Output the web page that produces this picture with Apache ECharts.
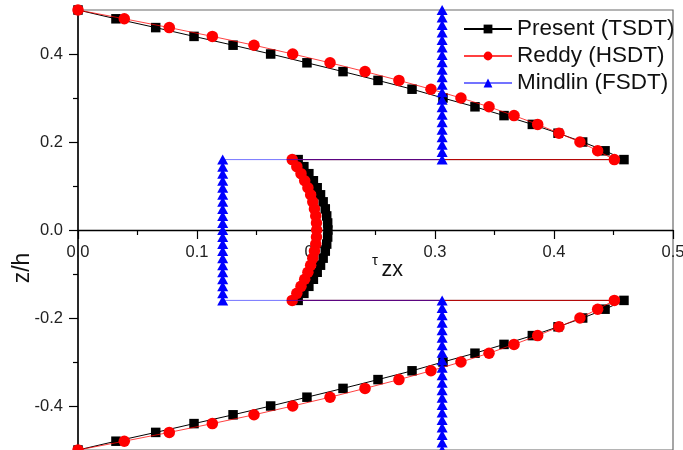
<!DOCTYPE html>
<html>
<head>
<meta charset="utf-8">
<script src="https://cdn.jsdelivr.net/npm/echarts@6/dist/echarts.min.js"></script>
<style>html,body{margin:0;padding:0;background:#fff}#c{width:683px;height:450px}</style>
</head>
<body>
<div id="c"></div>
<script>
// ---- data (z/h positions and shear stress tau_zx) ----
const layerTopZ = [0.5,0.48,0.46,0.44,0.42,0.4,0.38,0.36,0.34,0.32,0.3,0.28,0.26,0.24,0.22,0.2,0.18,0.16];
const coreZ = [0.16,0.144,0.128,0.112,0.096,0.08,0.064,0.048,0.032,0.016,0,-0.016,-0.032,-0.048,-0.064,-0.08,-0.096,-0.112,-0.128,-0.144,-0.16];
const layerBotZ = [-0.16,-0.18,-0.2,-0.22,-0.24,-0.26,-0.28,-0.3,-0.32,-0.34,-0.36,-0.38,-0.4,-0.42,-0.44,-0.46,-0.48,-0.5];

const presentTop = [0,0.0319,0.0653,0.0975,0.1303,0.1619,0.1924,0.2227,0.2521,0.2807,0.3067,0.3336,0.358,0.3818,0.4034,0.4241,0.4429,0.4588];
const presentCore = [0.185,0.1898,0.194,0.1978,0.201,0.2038,0.206,0.2078,0.209,0.2098,0.21,0.2098,0.209,0.2078,0.206,0.2038,0.201,0.1978,0.194,0.1898,0.185];
const presentBot = [0.4588,0.4429,0.4241,0.4034,0.3818,0.358,0.3336,0.3067,0.2807,0.2521,0.2227,0.1924,0.1619,0.1303,0.0975,0.0653,0.0319,0];

const reddyTop = [0,0.0389,0.0767,0.1129,0.1479,0.1804,0.2118,0.2412,0.2697,0.2966,0.3218,0.3454,0.3664,0.3863,0.4042,0.4218,0.4367,0.4507];
const reddyCore = [0.18,0.1839,0.1874,0.1905,0.1932,0.1955,0.1973,0.1987,0.1998,0.2004,0.2006,0.2004,0.1998,0.1987,0.1973,0.1955,0.1932,0.1905,0.1874,0.1839,0.18];
const reddyBot = [0.4507,0.4367,0.4218,0.4042,0.3863,0.3664,0.3454,0.3218,0.2966,0.2697,0.2412,0.2118,0.1804,0.1479,0.1129,0.0767,0.0389,0];

const mindlinTopZ = [0.5,0.483,0.466,0.449,0.432,0.415,0.398,0.381,0.364,0.347,0.33,0.313,0.296,0.279,0.262,0.245,0.228,0.211,0.194,0.177,0.16];
const mindlinBotZ = [-0.16,-0.177,-0.194,-0.211,-0.228,-0.245,-0.262,-0.279,-0.296,-0.313,-0.33,-0.347,-0.364,-0.381,-0.398,-0.415,-0.432,-0.449,-0.466,-0.483,-0.5];
const mindlinTop = [0.306,0.306,0.306,0.306,0.306,0.306,0.306,0.306,0.306,0.306,0.306,0.306,0.306,0.306,0.306,0.306,0.306,0.306,0.306,0.306,0.306];
const mindlinCore = [0.1216,0.1216,0.1216,0.1216,0.1216,0.1216,0.1216,0.1216,0.1216,0.1216,0.1216,0.1216,0.1216,0.1216,0.1216,0.1216,0.1216,0.1216,0.1216,0.1216,0.1216];
const mindlinBot = [0.306,0.306,0.306,0.306,0.306,0.306,0.306,0.306,0.306,0.306,0.306,0.306,0.306,0.306,0.306,0.306,0.306,0.306,0.306,0.306,0.306];

const seriesNames = ['Present (TSDT)','Reddy (HSDT)','Mindlin (FSDT)'];
const yMajorTicks = [-0.4,-0.2,0,0.2,0.4];
const yMinorTicks = [-0.3,-0.1,0.1,0.3];

function pairs(taus, zs){ return zs.map((z,i)=>[taus[i], z]); }
const presentData = [].concat(pairs(presentTop,layerTopZ), pairs(presentCore,coreZ), pairs(presentBot,layerBotZ));
const reddyData = [].concat(pairs(reddyTop,layerTopZ), pairs(reddyCore,coreZ), pairs(reddyBot,layerBotZ));
const mindlinData = [].concat(pairs(mindlinTop,mindlinTopZ), pairs(mindlinCore,coreZ), pairs(mindlinBot,mindlinBotZ));

const FONT = 'Liberation Sans, Arial, sans-serif';
const chart = echarts.init(document.getElementById('c'), null, {renderer:'canvas'});
chart.setOption({
  animation:false,
  backgroundColor:'#fff',
  grid:{left:78,right:10,top:10,bottom:0,show:true,borderColor:'#6a6a6a',borderWidth:1.2,containLabel:false,outerBoundsMode:'none'},
  legend:{
    data:seriesNames, orient:'vertical', left:463, top:17.5, itemWidth:48, itemHeight:11, itemGap:4, padding:0,
    textStyle:{fontFamily:FONT,fontSize:22.5,color:'#111',lineHeight:23}
  },
  xAxis:{
    type:'value', min:0, max:0.5, interval:0.1, position:'bottom', offset:-220,
    axisLine:{show:true,onZero:false,lineStyle:{color:'#000',width:1.3}},
    axisTick:{show:true,inside:false,length:9,lineStyle:{color:'#000',width:1.2}},
    minorTick:{show:true,splitNumber:2,length:5,lineStyle:{color:'#000',width:1.2}},
    axisLabel:{show:true,margin:14,fontFamily:FONT,fontSize:16.5,color:'#222',formatter:v=>v.toFixed(1),showMinLabel:true,showMaxLabel:true,hideOverlap:false},
    splitLine:{show:false}
  },
  yAxis:[{
    type:'value', min:-0.5, max:0.5, interval:0.1,
    axisLine:{show:true,onZero:false,lineStyle:{color:'#000',width:1.5}},
    axisTick:{show:true,inside:false,length:9,customValues:yMajorTicks,lineStyle:{color:'#000',width:1.2}},
    axisLabel:{margin:15,fontFamily:FONT,fontSize:16.5,color:'#222',customValues:yMajorTicks,formatter:v=>v.toFixed(1)},
    splitLine:{show:false}
  },{
    type:'value', min:-0.5, max:0.5, interval:0.1, position:'left', offset:0,
    axisLine:{show:false,onZero:false},
    axisTick:{show:true,inside:false,length:5,customValues:yMinorTicks,lineStyle:{color:'#000',width:1.2}},
    axisLabel:{show:false},
    splitLine:{show:false}
  }],
  graphic:[
    {type:'text', x:23, y:268, rotation:Math.PI/2, style:{text:'z/h', font:'23px '+FONT, fill:'#111', align:'center', verticalAlign:'middle'}},
    {type:'text', x:375, y:261, style:{text:'τ', font:'15px '+FONT, fill:'#111', align:'center', verticalAlign:'middle'}},
    {type:'text', x:381.5, y:270.5, style:{text:'zx', font:'21.5px '+FONT, fill:'#111', align:'left', verticalAlign:'middle'}}
  ],
  series:[
    {name:seriesNames[0], type:'line', data:presentData, symbol:'rect', symbolSize:9.5,
      itemStyle:{color:'#000'}, lineStyle:{color:'#000',width:1}, z:2},
    {name:seriesNames[1], type:'line', data:reddyData, symbol:'circle', symbolSize:11.5,
      itemStyle:{color:'#ff0000'}, lineStyle:{color:'#ff0000',width:1,opacity:0.75}, z:3},
    {name:seriesNames[2], type:'line', data:mindlinData, symbol:'triangle', symbolSize:[11,10],
      itemStyle:{color:'#0000ff'}, lineStyle:{color:'#0000ff',width:1,opacity:0.55}, z:4}
  ]
});
</script>
</body>
</html>
